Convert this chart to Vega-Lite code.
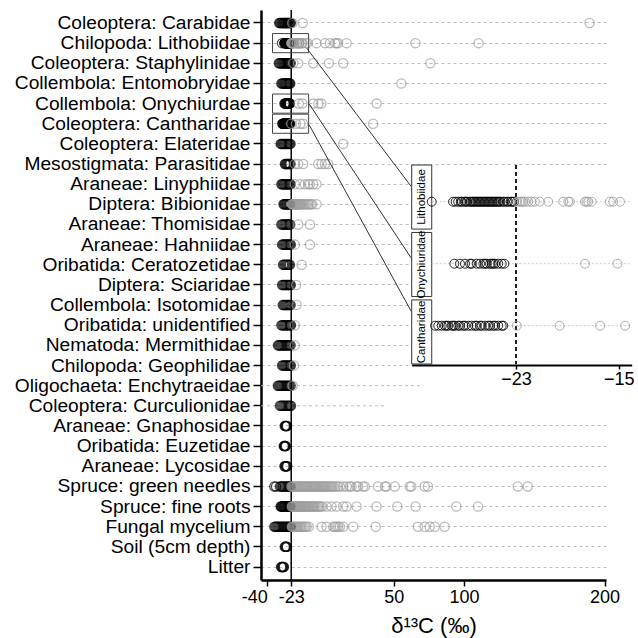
{
"$schema": "https://vega.github.io/schema/vega-lite/v6.json",
"width": 345, "height": 570,
"autosize": {"type": "none"},
"padding": {"left": 261, "top": 10, "right": 32, "bottom": 58},
"background": "white",
"config": {"font": "Liberation Sans", "view": {"stroke": null}},
"data": {"values": [{}]},
"datasets": {
"strips": [
{"taxon":"Chilopoda: Lithobiidae","strip":"Lithobiidae"},
{"taxon":"Collembola: Onychiurdae","strip":"Onychiuridae"},
{"taxon":"Coleoptera: Cantharidae","strip":"Cantharidae"}
],
"pts": [
{"taxon":"Coleoptera: Carabidae","d13C":-31.5},{"taxon":"Coleoptera: Carabidae","d13C":-31},{"taxon":"Coleoptera: Carabidae","d13C":-30.4},{"taxon":"Coleoptera: Carabidae","d13C":-29.8},{"taxon":"Coleoptera: Carabidae","d13C":-29.3},{"taxon":"Coleoptera: Carabidae","d13C":-28.9},{"taxon":"Coleoptera: Carabidae","d13C":-28.4},{"taxon":"Coleoptera: Carabidae","d13C":-28},{"taxon":"Coleoptera: Carabidae","d13C":-27.6},{"taxon":"Coleoptera: Carabidae","d13C":-27.2},{"taxon":"Coleoptera: Carabidae","d13C":-26.8},{"taxon":"Coleoptera: Carabidae","d13C":-26.4},{"taxon":"Coleoptera: Carabidae","d13C":-26},{"taxon":"Coleoptera: Carabidae","d13C":-25.6},{"taxon":"Coleoptera: Carabidae","d13C":-25.2},{"taxon":"Coleoptera: Carabidae","d13C":-24.8},{"taxon":"Coleoptera: Carabidae","d13C":-24.3},{"taxon":"Coleoptera: Carabidae","d13C":-23.8},{"taxon":"Coleoptera: Carabidae","d13C":-23.3},{"taxon":"Coleoptera: Carabidae","d13C":-22.2},{"taxon":"Coleoptera: Carabidae","d13C":-14.8},{"taxon":"Coleoptera: Carabidae","d13C":189.3},
{"taxon":"Chilopoda: Lithobiidae","d13C":-29.56},{"taxon":"Chilopoda: Lithobiidae","d13C":-27.9},{"taxon":"Chilopoda: Lithobiidae","d13C":-27.7},{"taxon":"Chilopoda: Lithobiidae","d13C":-27.5},{"taxon":"Chilopoda: Lithobiidae","d13C":-27.3},{"taxon":"Chilopoda: Lithobiidae","d13C":-27.2},{"taxon":"Chilopoda: Lithobiidae","d13C":-27.0},{"taxon":"Chilopoda: Lithobiidae","d13C":-26.9},{"taxon":"Chilopoda: Lithobiidae","d13C":-26.8},{"taxon":"Chilopoda: Lithobiidae","d13C":-26.6},{"taxon":"Chilopoda: Lithobiidae","d13C":-26.5},{"taxon":"Chilopoda: Lithobiidae","d13C":-26.4},{"taxon":"Chilopoda: Lithobiidae","d13C":-26.3},{"taxon":"Chilopoda: Lithobiidae","d13C":-26.2},{"taxon":"Chilopoda: Lithobiidae","d13C":-26.1},{"taxon":"Chilopoda: Lithobiidae","d13C":-26.0},{"taxon":"Chilopoda: Lithobiidae","d13C":-25.9},{"taxon":"Chilopoda: Lithobiidae","d13C":-25.8},{"taxon":"Chilopoda: Lithobiidae","d13C":-25.7},{"taxon":"Chilopoda: Lithobiidae","d13C":-25.6},{"taxon":"Chilopoda: Lithobiidae","d13C":-25.5},{"taxon":"Chilopoda: Lithobiidae","d13C":-25.4},{"taxon":"Chilopoda: Lithobiidae","d13C":-25.3},{"taxon":"Chilopoda: Lithobiidae","d13C":-25.2},{"taxon":"Chilopoda: Lithobiidae","d13C":-25.1},{"taxon":"Chilopoda: Lithobiidae","d13C":-25.0},{"taxon":"Chilopoda: Lithobiidae","d13C":-24.9},{"taxon":"Chilopoda: Lithobiidae","d13C":-24.8},{"taxon":"Chilopoda: Lithobiidae","d13C":-24.7},{"taxon":"Chilopoda: Lithobiidae","d13C":-24.6},{"taxon":"Chilopoda: Lithobiidae","d13C":-24.5},{"taxon":"Chilopoda: Lithobiidae","d13C":-24.4},{"taxon":"Chilopoda: Lithobiidae","d13C":-24.3},{"taxon":"Chilopoda: Lithobiidae","d13C":-24.2},{"taxon":"Chilopoda: Lithobiidae","d13C":-24.0},{"taxon":"Chilopoda: Lithobiidae","d13C":-23.9},{"taxon":"Chilopoda: Lithobiidae","d13C":-23.7},{"taxon":"Chilopoda: Lithobiidae","d13C":-23.6},{"taxon":"Chilopoda: Lithobiidae","d13C":-23.4},{"taxon":"Chilopoda: Lithobiidae","d13C":-23.3},{"taxon":"Chilopoda: Lithobiidae","d13C":-23.15},
{"taxon":"Chilopoda: Lithobiidae","d13C":-22.9},{"taxon":"Chilopoda: Lithobiidae","d13C":-22.7},{"taxon":"Chilopoda: Lithobiidae","d13C":-22.56},{"taxon":"Chilopoda: Lithobiidae","d13C":-22.45},{"taxon":"Chilopoda: Lithobiidae","d13C":-22.3},{"taxon":"Chilopoda: Lithobiidae","d13C":-22.05},{"taxon":"Chilopoda: Lithobiidae","d13C":-21.79},{"taxon":"Chilopoda: Lithobiidae","d13C":-21.53},{"taxon":"Chilopoda: Lithobiidae","d13C":-21.14},{"taxon":"Chilopoda: Lithobiidae","d13C":-20.49},{"taxon":"Chilopoda: Lithobiidae","d13C":-19.32},{"taxon":"Chilopoda: Lithobiidae","d13C":-18.93},{"taxon":"Chilopoda: Lithobiidae","d13C":-18.8},{"taxon":"Chilopoda: Lithobiidae","d13C":-17.63},{"taxon":"Chilopoda: Lithobiidae","d13C":-17.5},{"taxon":"Chilopoda: Lithobiidae","d13C":-17.37},{"taxon":"Chilopoda: Lithobiidae","d13C":-17.11},{"taxon":"Chilopoda: Lithobiidae","d13C":-15.68},{"taxon":"Chilopoda: Lithobiidae","d13C":-15.43},{"taxon":"Chilopoda: Lithobiidae","d13C":-14.9},{"taxon":"Chilopoda: Lithobiidae","d13C":-12.5},{"taxon":"Chilopoda: Lithobiidae","d13C":-11.3},{"taxon":"Chilopoda: Lithobiidae","d13C":-5.0},{"taxon":"Chilopoda: Lithobiidae","d13C":1.0},{"taxon":"Chilopoda: Lithobiidae","d13C":4.5},{"taxon":"Chilopoda: Lithobiidae","d13C":8.1},{"taxon":"Chilopoda: Lithobiidae","d13C":9.3},{"taxon":"Chilopoda: Lithobiidae","d13C":10.4},{"taxon":"Chilopoda: Lithobiidae","d13C":16.4},{"taxon":"Chilopoda: Lithobiidae","d13C":65.4},{"taxon":"Chilopoda: Lithobiidae","d13C":110.3},
{"taxon":"Coleoptera: Staphylinidae","d13C":-31.8},{"taxon":"Coleoptera: Staphylinidae","d13C":-31.2},{"taxon":"Coleoptera: Staphylinidae","d13C":-30.6},{"taxon":"Coleoptera: Staphylinidae","d13C":-30},{"taxon":"Coleoptera: Staphylinidae","d13C":-29.4},{"taxon":"Coleoptera: Staphylinidae","d13C":-28.8},{"taxon":"Coleoptera: Staphylinidae","d13C":-28.3},{"taxon":"Coleoptera: Staphylinidae","d13C":-27.8},{"taxon":"Coleoptera: Staphylinidae","d13C":-27.3},{"taxon":"Coleoptera: Staphylinidae","d13C":-26.8},{"taxon":"Coleoptera: Staphylinidae","d13C":-26.3},{"taxon":"Coleoptera: Staphylinidae","d13C":-25.8},{"taxon":"Coleoptera: Staphylinidae","d13C":-25.3},{"taxon":"Coleoptera: Staphylinidae","d13C":-24.8},{"taxon":"Coleoptera: Staphylinidae","d13C":-24.3},{"taxon":"Coleoptera: Staphylinidae","d13C":-23.8},{"taxon":"Coleoptera: Staphylinidae","d13C":-23.4},{"taxon":"Coleoptera: Staphylinidae","d13C":-21.5},{"taxon":"Coleoptera: Staphylinidae","d13C":-18.1},{"taxon":"Coleoptera: Staphylinidae","d13C":-7.3},{"taxon":"Coleoptera: Staphylinidae","d13C":3.8},{"taxon":"Coleoptera: Staphylinidae","d13C":14.0},{"taxon":"Coleoptera: Staphylinidae","d13C":76.0},
{"taxon":"Collembola: Entomobryidae","d13C":-30},{"taxon":"Collembola: Entomobryidae","d13C":-29.4},{"taxon":"Collembola: Entomobryidae","d13C":-28.8},{"taxon":"Collembola: Entomobryidae","d13C":-28.2},{"taxon":"Collembola: Entomobryidae","d13C":-27.7},{"taxon":"Collembola: Entomobryidae","d13C":-27.2},{"taxon":"Collembola: Entomobryidae","d13C":-26.7},{"taxon":"Collembola: Entomobryidae","d13C":-26.2},{"taxon":"Collembola: Entomobryidae","d13C":-25.7},{"taxon":"Collembola: Entomobryidae","d13C":-25.2},{"taxon":"Collembola: Entomobryidae","d13C":-24.7},{"taxon":"Collembola: Entomobryidae","d13C":-24.2},{"taxon":"Collembola: Entomobryidae","d13C":-23.7},{"taxon":"Collembola: Entomobryidae","d13C":55.4},
{"taxon":"Collembola: Onychiurdae","d13C":-27.8},{"taxon":"Collembola: Onychiurdae","d13C":-27.36},{"taxon":"Collembola: Onychiurdae","d13C":-26.97},{"taxon":"Collembola: Onychiurdae","d13C":-26.58},{"taxon":"Collembola: Onychiurdae","d13C":-26.45},{"taxon":"Collembola: Onychiurdae","d13C":-26.06},{"taxon":"Collembola: Onychiurdae","d13C":-25.8},{"taxon":"Collembola: Onychiurdae","d13C":-25.54},{"taxon":"Collembola: Onychiurdae","d13C":-25.41},{"taxon":"Collembola: Onychiurdae","d13C":-25.28},{"taxon":"Collembola: Onychiurdae","d13C":-25.02},{"taxon":"Collembola: Onychiurdae","d13C":-24.89},{"taxon":"Collembola: Onychiurdae","d13C":-24.76},{"taxon":"Collembola: Onychiurdae","d13C":-24.63},{"taxon":"Collembola: Onychiurdae","d13C":-24.38},{"taxon":"Collembola: Onychiurdae","d13C":-24.11},{"taxon":"Collembola: Onychiurdae","d13C":-23.9},{"taxon":"Collembola: Onychiurdae","d13C":-17.62},{"taxon":"Collembola: Onychiurdae","d13C":-15.1},{"taxon":"Collembola: Onychiurdae","d13C":-7.3},{"taxon":"Collembola: Onychiurdae","d13C":-3.6},{"taxon":"Collembola: Onychiurdae","d13C":-1.6},{"taxon":"Collembola: Onychiurdae","d13C":37.8},
{"taxon":"Coleoptera: Cantharidae","d13C":-29.3},{"taxon":"Coleoptera: Cantharidae","d13C":-29.05},{"taxon":"Coleoptera: Cantharidae","d13C":-28.78},{"taxon":"Coleoptera: Cantharidae","d13C":-28.53},{"taxon":"Coleoptera: Cantharidae","d13C":-28.4},{"taxon":"Coleoptera: Cantharidae","d13C":-28.27},{"taxon":"Coleoptera: Cantharidae","d13C":-28.0},{"taxon":"Coleoptera: Cantharidae","d13C":-27.88},{"taxon":"Coleoptera: Cantharidae","d13C":-27.75},{"taxon":"Coleoptera: Cantharidae","d13C":-27.49},{"taxon":"Coleoptera: Cantharidae","d13C":-27.36},{"taxon":"Coleoptera: Cantharidae","d13C":-27.1},{"taxon":"Coleoptera: Cantharidae","d13C":-26.97},{"taxon":"Coleoptera: Cantharidae","d13C":-26.71},{"taxon":"Coleoptera: Cantharidae","d13C":-26.45},{"taxon":"Coleoptera: Cantharidae","d13C":-26.19},{"taxon":"Coleoptera: Cantharidae","d13C":-26.06},{"taxon":"Coleoptera: Cantharidae","d13C":-25.8},{"taxon":"Coleoptera: Cantharidae","d13C":-25.67},{"taxon":"Coleoptera: Cantharidae","d13C":-25.41},{"taxon":"Coleoptera: Cantharidae","d13C":-25.16},{"taxon":"Coleoptera: Cantharidae","d13C":-25.02},{"taxon":"Coleoptera: Cantharidae","d13C":-24.77},{"taxon":"Coleoptera: Cantharidae","d13C":-24.63},{"taxon":"Coleoptera: Cantharidae","d13C":-24.38},{"taxon":"Coleoptera: Cantharidae","d13C":-24.11},{"taxon":"Coleoptera: Cantharidae","d13C":-23.99},{"taxon":"Coleoptera: Cantharidae","d13C":-22.94},{"taxon":"Coleoptera: Cantharidae","d13C":-19.6},{"taxon":"Coleoptera: Cantharidae","d13C":-16.45},{"taxon":"Coleoptera: Cantharidae","d13C":-14.5},{"taxon":"Coleoptera: Cantharidae","d13C":35.3},
{"taxon":"Coleoptera: Elateridae","d13C":-30.5},{"taxon":"Coleoptera: Elateridae","d13C":-30},{"taxon":"Coleoptera: Elateridae","d13C":-29.4},{"taxon":"Coleoptera: Elateridae","d13C":-28.8},{"taxon":"Coleoptera: Elateridae","d13C":-28.2},{"taxon":"Coleoptera: Elateridae","d13C":-27.6},{"taxon":"Coleoptera: Elateridae","d13C":-27},{"taxon":"Coleoptera: Elateridae","d13C":-26.4},{"taxon":"Coleoptera: Elateridae","d13C":-25.8},{"taxon":"Coleoptera: Elateridae","d13C":-25.2},{"taxon":"Coleoptera: Elateridae","d13C":-24.6},{"taxon":"Coleoptera: Elateridae","d13C":-24},{"taxon":"Coleoptera: Elateridae","d13C":-23.5},{"taxon":"Coleoptera: Elateridae","d13C":14.0},
{"taxon":"Mesostigmata: Parasitidae","d13C":-27.5},{"taxon":"Mesostigmata: Parasitidae","d13C":-27},{"taxon":"Mesostigmata: Parasitidae","d13C":-26.5},{"taxon":"Mesostigmata: Parasitidae","d13C":-26},{"taxon":"Mesostigmata: Parasitidae","d13C":-25.5},{"taxon":"Mesostigmata: Parasitidae","d13C":-25},{"taxon":"Mesostigmata: Parasitidae","d13C":-24.5},{"taxon":"Mesostigmata: Parasitidae","d13C":-24},{"taxon":"Mesostigmata: Parasitidae","d13C":-23.5},{"taxon":"Mesostigmata: Parasitidae","d13C":-20.4},{"taxon":"Mesostigmata: Parasitidae","d13C":-18.0},{"taxon":"Mesostigmata: Parasitidae","d13C":-14.5},{"taxon":"Mesostigmata: Parasitidae","d13C":-3.8},{"taxon":"Mesostigmata: Parasitidae","d13C":-1.4},{"taxon":"Mesostigmata: Parasitidae","d13C":1.0},{"taxon":"Mesostigmata: Parasitidae","d13C":3.3},
{"taxon":"Araneae: Linyphiidae","d13C":-30},{"taxon":"Araneae: Linyphiidae","d13C":-29.4},{"taxon":"Araneae: Linyphiidae","d13C":-28.8},{"taxon":"Araneae: Linyphiidae","d13C":-28.2},{"taxon":"Araneae: Linyphiidae","d13C":-27.6},{"taxon":"Araneae: Linyphiidae","d13C":-27},{"taxon":"Araneae: Linyphiidae","d13C":-26.4},{"taxon":"Araneae: Linyphiidae","d13C":-25.8},{"taxon":"Araneae: Linyphiidae","d13C":-25.2},{"taxon":"Araneae: Linyphiidae","d13C":-24.6},{"taxon":"Araneae: Linyphiidae","d13C":-24},{"taxon":"Araneae: Linyphiidae","d13C":-23.4},{"taxon":"Araneae: Linyphiidae","d13C":-20.4},{"taxon":"Araneae: Linyphiidae","d13C":-16.8},{"taxon":"Araneae: Linyphiidae","d13C":-13.3},{"taxon":"Araneae: Linyphiidae","d13C":-10.9},{"taxon":"Araneae: Linyphiidae","d13C":-9.7},{"taxon":"Araneae: Linyphiidae","d13C":-7.4},{"taxon":"Araneae: Linyphiidae","d13C":-5.0},
{"taxon":"Diptera: Bibionidae","d13C":-28.5},{"taxon":"Diptera: Bibionidae","d13C":-28},{"taxon":"Diptera: Bibionidae","d13C":-27.5},{"taxon":"Diptera: Bibionidae","d13C":-27},{"taxon":"Diptera: Bibionidae","d13C":-26.5},{"taxon":"Diptera: Bibionidae","d13C":-26},{"taxon":"Diptera: Bibionidae","d13C":-25.5},{"taxon":"Diptera: Bibionidae","d13C":-25},{"taxon":"Diptera: Bibionidae","d13C":-24.5},{"taxon":"Diptera: Bibionidae","d13C":-24},{"taxon":"Diptera: Bibionidae","d13C":-23.5},{"taxon":"Diptera: Bibionidae","d13C":-22.5},{"taxon":"Diptera: Bibionidae","d13C":-22},{"taxon":"Diptera: Bibionidae","d13C":-21.5},{"taxon":"Diptera: Bibionidae","d13C":-21},{"taxon":"Diptera: Bibionidae","d13C":-20.5},{"taxon":"Diptera: Bibionidae","d13C":-20},{"taxon":"Diptera: Bibionidae","d13C":-19.5},{"taxon":"Diptera: Bibionidae","d13C":-19},{"taxon":"Diptera: Bibionidae","d13C":-18.5},{"taxon":"Diptera: Bibionidae","d13C":-18},{"taxon":"Diptera: Bibionidae","d13C":-17.5},{"taxon":"Diptera: Bibionidae","d13C":-17},{"taxon":"Diptera: Bibionidae","d13C":-16.5},{"taxon":"Diptera: Bibionidae","d13C":-16},{"taxon":"Diptera: Bibionidae","d13C":-15},{"taxon":"Diptera: Bibionidae","d13C":-14},{"taxon":"Diptera: Bibionidae","d13C":-13},{"taxon":"Diptera: Bibionidae","d13C":-12},{"taxon":"Diptera: Bibionidae","d13C":-11},{"taxon":"Diptera: Bibionidae","d13C":-10},{"taxon":"Diptera: Bibionidae","d13C":-9},{"taxon":"Diptera: Bibionidae","d13C":-8},{"taxon":"Diptera: Bibionidae","d13C":-5.0},
{"taxon":"Araneae: Thomisidae","d13C":-30},{"taxon":"Araneae: Thomisidae","d13C":-29.3},{"taxon":"Araneae: Thomisidae","d13C":-28.6},{"taxon":"Araneae: Thomisidae","d13C":-27.9},{"taxon":"Araneae: Thomisidae","d13C":-27.2},{"taxon":"Araneae: Thomisidae","d13C":-26.5},{"taxon":"Araneae: Thomisidae","d13C":-25.8},{"taxon":"Araneae: Thomisidae","d13C":-25.1},{"taxon":"Araneae: Thomisidae","d13C":-24.4},{"taxon":"Araneae: Thomisidae","d13C":-23.7},{"taxon":"Araneae: Thomisidae","d13C":-18.0},{"taxon":"Araneae: Thomisidae","d13C":-9.7},
{"taxon":"Araneae: Hahniidae","d13C":-29.5},{"taxon":"Araneae: Hahniidae","d13C":-28.8},{"taxon":"Araneae: Hahniidae","d13C":-28.1},{"taxon":"Araneae: Hahniidae","d13C":-27.4},{"taxon":"Araneae: Hahniidae","d13C":-26.7},{"taxon":"Araneae: Hahniidae","d13C":-26},{"taxon":"Araneae: Hahniidae","d13C":-25.3},{"taxon":"Araneae: Hahniidae","d13C":-24.6},{"taxon":"Araneae: Hahniidae","d13C":-23.9},{"taxon":"Araneae: Hahniidae","d13C":-23.3},{"taxon":"Araneae: Hahniidae","d13C":-20.4},{"taxon":"Araneae: Hahniidae","d13C":-9.7},
{"taxon":"Oribatida: Ceratozetidae","d13C":-28.8},{"taxon":"Oribatida: Ceratozetidae","d13C":-28.1},{"taxon":"Oribatida: Ceratozetidae","d13C":-27.4},{"taxon":"Oribatida: Ceratozetidae","d13C":-26.7},{"taxon":"Oribatida: Ceratozetidae","d13C":-26},{"taxon":"Oribatida: Ceratozetidae","d13C":-25.3},{"taxon":"Oribatida: Ceratozetidae","d13C":-24.6},{"taxon":"Oribatida: Ceratozetidae","d13C":-23.9},{"taxon":"Oribatida: Ceratozetidae","d13C":-15.6},
{"taxon":"Diptera: Sciaridae","d13C":-29.5},{"taxon":"Diptera: Sciaridae","d13C":-28.8},{"taxon":"Diptera: Sciaridae","d13C":-28.1},{"taxon":"Diptera: Sciaridae","d13C":-27.4},{"taxon":"Diptera: Sciaridae","d13C":-26.7},{"taxon":"Diptera: Sciaridae","d13C":-26},{"taxon":"Diptera: Sciaridae","d13C":-25.3},{"taxon":"Diptera: Sciaridae","d13C":-24.6},{"taxon":"Diptera: Sciaridae","d13C":-23.9},{"taxon":"Diptera: Sciaridae","d13C":-23.3},{"taxon":"Diptera: Sciaridae","d13C":-19.5},
{"taxon":"Collembola: Isotomidae","d13C":-29},{"taxon":"Collembola: Isotomidae","d13C":-28.3},{"taxon":"Collembola: Isotomidae","d13C":-27.6},{"taxon":"Collembola: Isotomidae","d13C":-26.9},{"taxon":"Collembola: Isotomidae","d13C":-26.2},{"taxon":"Collembola: Isotomidae","d13C":-25.5},{"taxon":"Collembola: Isotomidae","d13C":-24.8},{"taxon":"Collembola: Isotomidae","d13C":-24.1},{"taxon":"Collembola: Isotomidae","d13C":-23.4},{"taxon":"Collembola: Isotomidae","d13C":-19.2},
{"taxon":"Oribatida: unidentified","d13C":-30},{"taxon":"Oribatida: unidentified","d13C":-29.3},{"taxon":"Oribatida: unidentified","d13C":-28.6},{"taxon":"Oribatida: unidentified","d13C":-27.9},{"taxon":"Oribatida: unidentified","d13C":-27.2},{"taxon":"Oribatida: unidentified","d13C":-26.5},{"taxon":"Oribatida: unidentified","d13C":-25.8},{"taxon":"Oribatida: unidentified","d13C":-25.1},{"taxon":"Oribatida: unidentified","d13C":-24.4},{"taxon":"Oribatida: unidentified","d13C":-23.7},{"taxon":"Oribatida: unidentified","d13C":-23.2},{"taxon":"Oribatida: unidentified","d13C":-20.4},
{"taxon":"Nematoda: Mermithidae","d13C":-32.5},{"taxon":"Nematoda: Mermithidae","d13C":-31.8},{"taxon":"Nematoda: Mermithidae","d13C":-31.1},{"taxon":"Nematoda: Mermithidae","d13C":-30.4},{"taxon":"Nematoda: Mermithidae","d13C":-29.7},{"taxon":"Nematoda: Mermithidae","d13C":-29},{"taxon":"Nematoda: Mermithidae","d13C":-28.3},{"taxon":"Nematoda: Mermithidae","d13C":-27.6},{"taxon":"Nematoda: Mermithidae","d13C":-26.9},{"taxon":"Nematoda: Mermithidae","d13C":-26.2},{"taxon":"Nematoda: Mermithidae","d13C":-25.5},{"taxon":"Nematoda: Mermithidae","d13C":-24.8},{"taxon":"Nematoda: Mermithidae","d13C":-24.1},{"taxon":"Nematoda: Mermithidae","d13C":-23.4},{"taxon":"Nematoda: Mermithidae","d13C":-20.4},
{"taxon":"Chilopoda: Geophilidae","d13C":-29.5},{"taxon":"Chilopoda: Geophilidae","d13C":-28.8},{"taxon":"Chilopoda: Geophilidae","d13C":-28.1},{"taxon":"Chilopoda: Geophilidae","d13C":-27.4},{"taxon":"Chilopoda: Geophilidae","d13C":-26.7},{"taxon":"Chilopoda: Geophilidae","d13C":-26},{"taxon":"Chilopoda: Geophilidae","d13C":-25.3},{"taxon":"Chilopoda: Geophilidae","d13C":-24.6},{"taxon":"Chilopoda: Geophilidae","d13C":-23.9},{"taxon":"Chilopoda: Geophilidae","d13C":-23.3},{"taxon":"Chilopoda: Geophilidae","d13C":-21.0},
{"taxon":"Oligochaeta: Enchytraeidae","d13C":-32.5},{"taxon":"Oligochaeta: Enchytraeidae","d13C":-31.8},{"taxon":"Oligochaeta: Enchytraeidae","d13C":-31.1},{"taxon":"Oligochaeta: Enchytraeidae","d13C":-30.4},{"taxon":"Oligochaeta: Enchytraeidae","d13C":-29.7},{"taxon":"Oligochaeta: Enchytraeidae","d13C":-29},{"taxon":"Oligochaeta: Enchytraeidae","d13C":-28.3},{"taxon":"Oligochaeta: Enchytraeidae","d13C":-27.6},{"taxon":"Oligochaeta: Enchytraeidae","d13C":-26.9},{"taxon":"Oligochaeta: Enchytraeidae","d13C":-26.2},{"taxon":"Oligochaeta: Enchytraeidae","d13C":-25.5},{"taxon":"Oligochaeta: Enchytraeidae","d13C":-24.8},{"taxon":"Oligochaeta: Enchytraeidae","d13C":-24.1},{"taxon":"Oligochaeta: Enchytraeidae","d13C":-23.4},{"taxon":"Oligochaeta: Enchytraeidae","d13C":-22.0},
{"taxon":"Coleoptera: Curculionidae","d13C":-31},{"taxon":"Coleoptera: Curculionidae","d13C":-30.2},{"taxon":"Coleoptera: Curculionidae","d13C":-29.4},{"taxon":"Coleoptera: Curculionidae","d13C":-28.6},{"taxon":"Coleoptera: Curculionidae","d13C":-27.8},{"taxon":"Coleoptera: Curculionidae","d13C":-27},{"taxon":"Coleoptera: Curculionidae","d13C":-26.2},{"taxon":"Coleoptera: Curculionidae","d13C":-25.4},{"taxon":"Coleoptera: Curculionidae","d13C":-24.6},{"taxon":"Coleoptera: Curculionidae","d13C":-23.8},{"taxon":"Coleoptera: Curculionidae","d13C":-23.2},
{"taxon":"Araneae: Gnaphosidae","d13C":-27.6},{"taxon":"Araneae: Gnaphosidae","d13C":-27.2},{"taxon":"Araneae: Gnaphosidae","d13C":-26.9},{"taxon":"Araneae: Gnaphosidae","d13C":-26.6},{"taxon":"Araneae: Gnaphosidae","d13C":-26.3},{"taxon":"Araneae: Gnaphosidae","d13C":-26.0},
{"taxon":"Oribatida: Euzetidae","d13C":-28.3},{"taxon":"Oribatida: Euzetidae","d13C":-28},{"taxon":"Oribatida: Euzetidae","d13C":-27.7},{"taxon":"Oribatida: Euzetidae","d13C":-27.4},{"taxon":"Oribatida: Euzetidae","d13C":-27.1},{"taxon":"Oribatida: Euzetidae","d13C":-26.8},
{"taxon":"Araneae: Lycosidae","d13C":-27.8},{"taxon":"Araneae: Lycosidae","d13C":-27.4},{"taxon":"Araneae: Lycosidae","d13C":-27},{"taxon":"Araneae: Lycosidae","d13C":-26.6},{"taxon":"Araneae: Lycosidae","d13C":-26.2},{"taxon":"Araneae: Lycosidae","d13C":-25.8},
{"taxon":"Spruce: green needles","d13C":-35.0},{"taxon":"Spruce: green needles","d13C":-33.8},{"taxon":"Spruce: green needles","d13C":-31},{"taxon":"Spruce: green needles","d13C":-30.2},{"taxon":"Spruce: green needles","d13C":-29.4},{"taxon":"Spruce: green needles","d13C":-28.6},{"taxon":"Spruce: green needles","d13C":-27.8},{"taxon":"Spruce: green needles","d13C":-27},{"taxon":"Spruce: green needles","d13C":-26.2},{"taxon":"Spruce: green needles","d13C":-25.4},{"taxon":"Spruce: green needles","d13C":-24.6},{"taxon":"Spruce: green needles","d13C":-23.8},{"taxon":"Spruce: green needles","d13C":-23.2},
{"taxon":"Spruce: green needles","d13C":-22.8},{"taxon":"Spruce: green needles","d13C":-22},{"taxon":"Spruce: green needles","d13C":-21.2},{"taxon":"Spruce: green needles","d13C":-20.4},{"taxon":"Spruce: green needles","d13C":-19.6},{"taxon":"Spruce: green needles","d13C":-18.8},{"taxon":"Spruce: green needles","d13C":-18},{"taxon":"Spruce: green needles","d13C":-17.2},{"taxon":"Spruce: green needles","d13C":-16.4},{"taxon":"Spruce: green needles","d13C":-15.6},{"taxon":"Spruce: green needles","d13C":-14.8},{"taxon":"Spruce: green needles","d13C":-14},{"taxon":"Spruce: green needles","d13C":-13.2},{"taxon":"Spruce: green needles","d13C":-12.4},{"taxon":"Spruce: green needles","d13C":-11.6},{"taxon":"Spruce: green needles","d13C":-10.8},{"taxon":"Spruce: green needles","d13C":-10},{"taxon":"Spruce: green needles","d13C":-9.2},{"taxon":"Spruce: green needles","d13C":-8.4},{"taxon":"Spruce: green needles","d13C":-7.6},{"taxon":"Spruce: green needles","d13C":-6.8},{"taxon":"Spruce: green needles","d13C":-6},{"taxon":"Spruce: green needles","d13C":-5.2},{"taxon":"Spruce: green needles","d13C":-4.4},{"taxon":"Spruce: green needles","d13C":-3.6},{"taxon":"Spruce: green needles","d13C":-2.8},{"taxon":"Spruce: green needles","d13C":-2},{"taxon":"Spruce: green needles","d13C":-1.2},{"taxon":"Spruce: green needles","d13C":-0.4},{"taxon":"Spruce: green needles","d13C":0.4},{"taxon":"Spruce: green needles","d13C":1.2},{"taxon":"Spruce: green needles","d13C":2},{"taxon":"Spruce: green needles","d13C":3},{"taxon":"Spruce: green needles","d13C":4},{"taxon":"Spruce: green needles","d13C":5},{"taxon":"Spruce: green needles","d13C":6},{"taxon":"Spruce: green needles","d13C":7},{"taxon":"Spruce: green needles","d13C":8.5},{"taxon":"Spruce: green needles","d13C":10},{"taxon":"Spruce: green needles","d13C":11.6},{"taxon":"Spruce: green needles","d13C":14},{"taxon":"Spruce: green needles","d13C":16.5},{"taxon":"Spruce: green needles","d13C":18.7},{"taxon":"Spruce: green needles","d13C":19.9},{"taxon":"Spruce: green needles","d13C":23.5},{"taxon":"Spruce: green needles","d13C":24.6},{"taxon":"Spruce: green needles","d13C":28.2},{"taxon":"Spruce: green needles","d13C":29.4},{"taxon":"Spruce: green needles","d13C":38.8},{"taxon":"Spruce: green needles","d13C":43.6},{"taxon":"Spruce: green needles","d13C":44.8},{"taxon":"Spruce: green needles","d13C":50.7},{"taxon":"Spruce: green needles","d13C":61.3},{"taxon":"Spruce: green needles","d13C":62.5},{"taxon":"Spruce: green needles","d13C":72},{"taxon":"Spruce: green needles","d13C":74.3},{"taxon":"Spruce: green needles","d13C":138.2},{"taxon":"Spruce: green needles","d13C":145.3},
{"taxon":"Spruce: fine roots","d13C":-30.5},{"taxon":"Spruce: fine roots","d13C":-30.1},{"taxon":"Spruce: fine roots","d13C":-29.7},{"taxon":"Spruce: fine roots","d13C":-29.3},{"taxon":"Spruce: fine roots","d13C":-28.9},{"taxon":"Spruce: fine roots","d13C":-28.5},{"taxon":"Spruce: fine roots","d13C":-28.1},{"taxon":"Spruce: fine roots","d13C":-27.7},{"taxon":"Spruce: fine roots","d13C":-27.3},{"taxon":"Spruce: fine roots","d13C":-26.9},{"taxon":"Spruce: fine roots","d13C":-26.5},{"taxon":"Spruce: fine roots","d13C":-26.1},{"taxon":"Spruce: fine roots","d13C":-25.7},{"taxon":"Spruce: fine roots","d13C":-25.3},{"taxon":"Spruce: fine roots","d13C":-24.9},{"taxon":"Spruce: fine roots","d13C":-24.5},{"taxon":"Spruce: fine roots","d13C":-24.1},{"taxon":"Spruce: fine roots","d13C":-23.7},{"taxon":"Spruce: fine roots","d13C":-23.3},
{"taxon":"Spruce: fine roots","d13C":-22.6},{"taxon":"Spruce: fine roots","d13C":-22},{"taxon":"Spruce: fine roots","d13C":-21.4},{"taxon":"Spruce: fine roots","d13C":-20.8},{"taxon":"Spruce: fine roots","d13C":-20.2},{"taxon":"Spruce: fine roots","d13C":-19.6},{"taxon":"Spruce: fine roots","d13C":-19},{"taxon":"Spruce: fine roots","d13C":-18.4},{"taxon":"Spruce: fine roots","d13C":-17.8},{"taxon":"Spruce: fine roots","d13C":-17.2},{"taxon":"Spruce: fine roots","d13C":-16.6},{"taxon":"Spruce: fine roots","d13C":-16},{"taxon":"Spruce: fine roots","d13C":-15.4},{"taxon":"Spruce: fine roots","d13C":-14.8},{"taxon":"Spruce: fine roots","d13C":-14.2},{"taxon":"Spruce: fine roots","d13C":-13.6},{"taxon":"Spruce: fine roots","d13C":-13},{"taxon":"Spruce: fine roots","d13C":-12.4},{"taxon":"Spruce: fine roots","d13C":-11.8},{"taxon":"Spruce: fine roots","d13C":-11.2},{"taxon":"Spruce: fine roots","d13C":-10.6},{"taxon":"Spruce: fine roots","d13C":-10},{"taxon":"Spruce: fine roots","d13C":-9.2},{"taxon":"Spruce: fine roots","d13C":-8.4},{"taxon":"Spruce: fine roots","d13C":-7.6},{"taxon":"Spruce: fine roots","d13C":-6.8},{"taxon":"Spruce: fine roots","d13C":-6},{"taxon":"Spruce: fine roots","d13C":-5},{"taxon":"Spruce: fine roots","d13C":-4},{"taxon":"Spruce: fine roots","d13C":-3},{"taxon":"Spruce: fine roots","d13C":-2},{"taxon":"Spruce: fine roots","d13C":-1},{"taxon":"Spruce: fine roots","d13C":2.2},{"taxon":"Spruce: fine roots","d13C":5.7},{"taxon":"Spruce: fine roots","d13C":9.3},{"taxon":"Spruce: fine roots","d13C":14.0},{"taxon":"Spruce: fine roots","d13C":16.4},{"taxon":"Spruce: fine roots","d13C":23.5},{"taxon":"Spruce: fine roots","d13C":37.7},{"taxon":"Spruce: fine roots","d13C":52.5},{"taxon":"Spruce: fine roots","d13C":65.5},{"taxon":"Spruce: fine roots","d13C":94.5},{"taxon":"Spruce: fine roots","d13C":109.9},
{"taxon":"Fungal mycelium","d13C":-35},{"taxon":"Fungal mycelium","d13C":-34.3},{"taxon":"Fungal mycelium","d13C":-33.6},{"taxon":"Fungal mycelium","d13C":-32.9},{"taxon":"Fungal mycelium","d13C":-32.2},{"taxon":"Fungal mycelium","d13C":-31.5},{"taxon":"Fungal mycelium","d13C":-30.8},{"taxon":"Fungal mycelium","d13C":-30.1},{"taxon":"Fungal mycelium","d13C":-29.4},{"taxon":"Fungal mycelium","d13C":-28.7},{"taxon":"Fungal mycelium","d13C":-28},{"taxon":"Fungal mycelium","d13C":-27.3},{"taxon":"Fungal mycelium","d13C":-26.6},{"taxon":"Fungal mycelium","d13C":-25.9},{"taxon":"Fungal mycelium","d13C":-25.2},{"taxon":"Fungal mycelium","d13C":-24.5},{"taxon":"Fungal mycelium","d13C":-23.8},{"taxon":"Fungal mycelium","d13C":-23.2},
{"taxon":"Fungal mycelium","d13C":-22.5},{"taxon":"Fungal mycelium","d13C":-21.8},{"taxon":"Fungal mycelium","d13C":-21},{"taxon":"Fungal mycelium","d13C":-20.2},{"taxon":"Fungal mycelium","d13C":-19.5},{"taxon":"Fungal mycelium","d13C":-18.7},{"taxon":"Fungal mycelium","d13C":-18},{"taxon":"Fungal mycelium","d13C":-17},{"taxon":"Fungal mycelium","d13C":-16},{"taxon":"Fungal mycelium","d13C":-15},{"taxon":"Fungal mycelium","d13C":-14},{"taxon":"Fungal mycelium","d13C":-13},{"taxon":"Fungal mycelium","d13C":-12},{"taxon":"Fungal mycelium","d13C":-10.5},{"taxon":"Fungal mycelium","d13C":-1.4},{"taxon":"Fungal mycelium","d13C":2.2},{"taxon":"Fungal mycelium","d13C":6.9},{"taxon":"Fungal mycelium","d13C":8.1},{"taxon":"Fungal mycelium","d13C":9.3},{"taxon":"Fungal mycelium","d13C":10.4},{"taxon":"Fungal mycelium","d13C":11.6},{"taxon":"Fungal mycelium","d13C":14.0},{"taxon":"Fungal mycelium","d13C":21.1},{"taxon":"Fungal mycelium","d13C":37.1},{"taxon":"Fungal mycelium","d13C":67.2},{"taxon":"Fungal mycelium","d13C":72.0},{"taxon":"Fungal mycelium","d13C":75.5},{"taxon":"Fungal mycelium","d13C":79.1},{"taxon":"Fungal mycelium","d13C":86.2},
{"taxon":"Soil (5cm depth)","d13C":-27.6},{"taxon":"Soil (5cm depth)","d13C":-27.2},{"taxon":"Soil (5cm depth)","d13C":-26.8},{"taxon":"Soil (5cm depth)","d13C":-26.4},{"taxon":"Soil (5cm depth)","d13C":-26.0},
{"taxon":"Litter","d13C":-30.2},{"taxon":"Litter","d13C":-29.8},{"taxon":"Litter","d13C":-29.4},{"taxon":"Litter","d13C":-29},{"taxon":"Litter","d13C":-28.6},{"taxon":"Litter","d13C":-28.2}
]
},
"layer": [
{
"layer": [
{"mark": {"type": "rule", "color": "#bbbbbb", "strokeDash": [3, 3], "strokeWidth": 1},
 "encoding": {"x": {"datum": -44.5, "type": "quantitative"}, "x2": {"datum": 68.4}, "y": {"datum": "Oligochaeta: Enchytraeidae", "type": "nominal"}}},
{"mark": {"type": "rule", "color": "#bbbbbb", "strokeDash": [3, 3], "strokeWidth": 1},
 "encoding": {"x": {"datum": -44.5, "type": "quantitative"}, "x2": {"datum": 43.6}, "y": {"datum": "Coleoptera: Curculionidae", "type": "nominal"}}},
{"mark": {"type": "rule", "color": "black", "strokeWidth": 1.5},
 "encoding": {"x": {"datum": -23, "type": "quantitative"}}},
{"data": {"name": "pts"},
 "mark": {"type": "point", "shape": "circle", "filled": false, "size": 85, "strokeWidth": 1.3},
 "encoding": {
  "x": {"field": "d13C", "type": "quantitative",
   "scale": {"domain": [-44.5, 201], "nice": false, "zero": false},
   "axis": {"values": [-40, -23, 50, 100, 200],
    "labelExpr": "datum.value < 0 ? '-' + abs(datum.value) : datum.label",
    "labelAlign": {"condition": {"test": "datum.value == -40", "value": "right"}, "value": "center"},
    "labelFontSize": 18, "labelColor": "black", "labelPadding": 2, "labelOverlap": false, "labelFlush": false,
    "tickColor": "black", "tickWidth": 1.5, "tickSize": 6,
    "domainColor": "black", "domainWidth": 2.5, "grid": false,
    "title": "δ¹³C  (‰)", "titleFontSize": 22, "titleFontWeight": "normal", "titleColor": "black", "titlePadding": 9}},
  "y": {"field": "taxon", "type": "nominal", "sort": null,
   "scale": {"type": "band", "paddingInner": 0.05, "paddingOuter": 0.17,
    "domain": ["Coleoptera: Carabidae","Chilopoda: Lithobiidae","Coleoptera: Staphylinidae","Collembola: Entomobryidae","Collembola: Onychiurdae","Coleoptera: Cantharidae","Coleoptera: Elateridae","Mesostigmata: Parasitidae","Araneae: Linyphiidae","Diptera: Bibionidae","Araneae: Thomisidae","Araneae: Hahniidae","Oribatida: Ceratozetidae","Diptera: Sciaridae","Collembola: Isotomidae","Oribatida: unidentified","Nematoda: Mermithidae","Chilopoda: Geophilidae","Oligochaeta: Enchytraeidae","Coleoptera: Curculionidae","Araneae: Gnaphosidae","Oribatida: Euzetidae","Araneae: Lycosidae","Spruce: green needles","Spruce: fine roots","Fungal mycelium","Soil (5cm depth)","Litter"]},
   "axis": {"title": null, "labelFontSize": 19.2, "labelColor": "black", "labelLimit": 400, "labelPadding": 3,
    "tickSize": 8, "tickColor": "black", "tickWidth": 1.5, "domainColor": "black", "domainWidth": 2.5,
    "bandPosition": 0.5, "grid": true, "gridDash": [3, 3], "gridColor": "#bbbbbb", "gridWidth": 1,
    "gridOpacity": {"condition": {"test": "datum.value === 'Oligochaeta: Enchytraeidae' || datum.value === 'Coleoptera: Curculionidae'", "value": 0}, "value": 1}}},
  "color": {"field": "d13C", "type": "quantitative", "legend": null,
   "scale": {"type": "threshold", "domain": [-23], "range": ["#000000", "#9e9e9e"]}}
 }},
{"data": {"name": "strips"},
 "mark": {"type": "rect", "filled": false, "stroke": "#444444", "strokeWidth": 1},
 "encoding": {"x": {"datum": -36.3, "type": "quantitative"}, "x2": {"datum": -10.6}, "y": {"field": "taxon", "type": "nominal"}}},
{"mark": {"type": "rule", "color": "#333333", "strokeWidth": 1},
 "encoding": {"x": {"datum": -12.0, "type": "quantitative"}, "x2": {"datum": 62.5},
  "y": {"datum": "Chilopoda: Lithobiidae", "type": "nominal", "bandPosition": 0.76},
  "y2": {"datum": "Araneae: Linyphiidae", "bandPosition": 0.63}}},
{"mark": {"type": "rule", "color": "#333333", "strokeWidth": 1},
 "encoding": {"x": {"datum": -10.2, "type": "quantitative"}, "x2": {"datum": 62.5},
  "y": {"datum": "Collembola: Onychiurdae", "type": "nominal", "bandPosition": 0.52},
  "y2": {"datum": "Oribatida: Ceratozetidae", "bandPosition": 0.16}}},
{"mark": {"type": "rule", "color": "#333333", "strokeWidth": 1},
 "encoding": {"x": {"datum": -10.2, "type": "quantitative"}, "x2": {"datum": 62.5},
  "y": {"datum": "Coleoptera: Cantharidae", "type": "nominal", "bandPosition": 0.56},
  "y2": {"datum": "Collembola: Isotomidae", "bandPosition": 0.84}}}
]
},
{
"data": {"name": "strips"},
"layer": [
{"mark": {"type": "rect", "fill": "white", "strokeWidth": 0},
 "encoding": {
  "x": {"datum": -31.12, "type": "quantitative",
   "scale": {"domain": [-31.12, -13.99], "range": [150.7, 370.7], "nice": false, "zero": false},
   "axis": {"orient": "bottom", "offset": -215, "values": [-23, -15], "labelFontSize": 18, "labelColor": "black",
    "tickColor": "black", "tickSize": 4, "tickWidth": 1.5, "domainColor": "black", "domainWidth": 2,
    "grid": false, "title": null, "labelPadding": 1, "zindex": 1, "labelFlush": false}},
  "x2": {"datum": -13.99},
  "y": {"field": "strip", "type": "nominal", "sort": null,
   "scale": {"type": "band", "domain": ["Lithobiidae", "Onychiuridae", "Cantharidae"], "range": [155, 354], "paddingInner": 0.05, "paddingOuter": 0},
   "axis": null}}},
{"mark": {"type": "rect", "fill": "white", "stroke": "#333333", "strokeWidth": 1},
 "encoding": {"x": {"datum": -31.12, "type": "quantitative"}, "x2": {"datum": -29.56},
  "y": {"field": "strip", "type": "nominal"}}},
{"mark": {"type": "text", "angle": 270, "fontSize": 11.5, "color": "black", "align": "center", "baseline": "middle"},
 "encoding": {"x": {"datum": -30.34, "type": "quantitative"},
  "y": {"field": "strip", "type": "nominal", "bandPosition": 0.5}, "text": {"field": "strip"}}},
{"mark": {"type": "rule", "color": "black", "strokeWidth": 1, "strokeDash": [4, 3]},
 "encoding": {"x": {"datum": -23, "type": "quantitative"},
  "y": {"datum": "Lithobiidae", "type": "nominal", "bandPosition": 0},
  "y2": {"datum": "Cantharidae", "bandPosition": 1}}}
]
},
{
"layer": [
{"data": {"name": "strips"},
 "mark": {"type": "rule", "color": "#c8c8c8", "strokeDash": [2, 2], "strokeWidth": 1},
 "encoding": {
  "x": {"datum": -29.56, "type": "quantitative",
   "scale": {"domain": [-31.12, -13.99], "range": [150.7, 370.7], "nice": false, "zero": false}, "axis": null},
  "x2": {"datum": -13.99},
  "y": {"field": "strip", "type": "nominal", "sort": null, "bandPosition": 0.5,
   "scale": {"type": "band", "domain": ["Lithobiidae", "Onychiuridae", "Cantharidae"], "range": [160.7, 346.7], "paddingInner": 0, "paddingOuter": 0},
   "axis": null}}},
{"data": {"name": "pts"},
 "transform": [
  {"lookup": "taxon", "from": {"data": {"name": "strips"}, "key": "taxon", "fields": ["strip"]}},
  {"filter": "isValid(datum.strip) && datum.d13C >= -31.1 && datum.d13C <= -14"}
 ],
 "mark": {"type": "point", "shape": "circle", "filled": false, "size": 80, "strokeWidth": 1, "opacity": 0.85},
 "encoding": {
  "x": {"field": "d13C", "type": "quantitative"},
  "y": {"field": "strip", "type": "nominal", "bandPosition": 0.5},
  "color": {"field": "d13C", "type": "quantitative", "legend": null,
   "scale": {"type": "threshold", "domain": [-23], "range": ["#000000", "#9e9e9e"]}}
 }}
]
}
],
"resolve": {"scale": {"x": "independent", "y": "independent", "color": "independent"}, "axis": {"x": "independent", "y": "independent"}}
}
